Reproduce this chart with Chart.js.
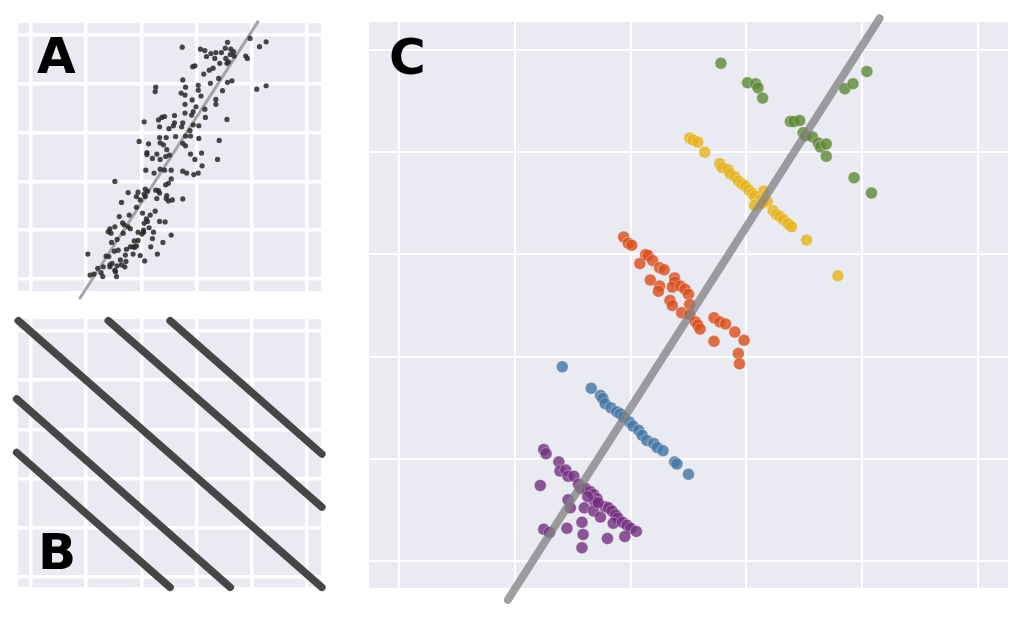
<!DOCTYPE html>
<html>
<head>
<meta charset="utf-8">
<script src="https://cdn.jsdelivr.net/npm/chart.js@4.4.1/dist/chart.umd.min.js"></script>
<style>
  html, body { margin: 0; padding: 0; background: #fff; }
  #wrap { position: relative; width: 1028px; height: 620px; overflow: hidden; }
  canvas { position: absolute; }
  .tag { position: absolute; font: bold 50px "DejaVu Sans", "Liberation Sans", Arial, sans-serif; line-height: 50px; color: #000; }
</style>
</head>
<body>
<div id="wrap">
  <canvas id="chartA" width="340" height="310" style="left:0px;top:0px"></canvas>
  <canvas id="chartB" width="340" height="315" style="left:0px;top:305px"></canvas>
  <canvas id="chartC" width="683" height="620" style="left:345px;top:0px"></canvas>
  <div class="tag" style="left:37px;top:31px">A</div>
  <div class="tag" style="left:38px;top:527px">B</div>
  <div class="tag" style="left:389px;top:32px">C</div>
</div>
<script>
// grid positions (axis units, same for every panel)
const gridTicks = [0, 1, 2, 3, 4, 5];

// panel A: noisy cloud + fitted line
const aPoints = [
  [3.56,4.85],[3.97,4.93],[4.26,4.86],[2.74,4.75],[3.07,4.71],[3.15,4.68],[3.26,4.62],[3.35,4.64],
  [3.45,4.64],[3.52,4.73],[3.62,4.71],[3.67,4.66],[3.61,4.60],[3.18,4.56],[3.33,4.52],[3.53,4.52],
  [3.58,4.45],[3.68,4.57],[3.89,4.57],[3.92,4.52],[4.14,4.76],[3.42,4.42],[3.30,4.32],[3.23,4.28],
  [2.93,4.35],[2.97,4.37],[3.13,4.20],[3.40,4.11],[3.56,4.03],[3.64,4.06],[3.25,4.01],[2.75,4.08],
  [2.26,3.93],[2.25,3.84],[2.80,3.93],[2.72,3.81],[3.03,3.97],[3.03,3.87],[2.92,3.67],[3.08,3.75],
  [2.79,3.58],[3.35,3.68],[3.35,3.58],[3.47,3.86],[4.09,3.89],[4.26,3.96],[2.99,3.53],[2.79,3.40],
  [3.15,3.48],[2.91,3.36],[2.60,3.35],[2.42,3.33],[2.37,3.31],[2.31,3.26],[2.05,3.22],[2.60,3.20],
  [2.75,3.20],[2.58,3.14],[2.73,3.12],[2.94,3.16],[3.04,3.14],[3.16,3.31],[3.55,3.27],[2.50,3.08],
  [2.33,3.12],[2.88,3.04],[2.80,2.93],[2.89,2.93],[3.04,2.88],[3.41,2.84],[1.96,2.82],[2.13,2.77],
  [2.33,2.90],[2.34,2.79],[2.40,2.75],[2.46,2.65],[2.51,2.54],[2.80,2.73],[2.75,2.78],[2.45,2.90],
  [2.62,2.92],[3.09,2.58],[2.89,2.56],[2.97,2.45],[3.10,2.32],[3.38,2.45],[2.10,2.59],[2.10,2.55],
  [2.28,2.56],[2.34,2.45],[2.44,2.51],[2.20,2.47],[2.34,2.25],[2.42,2.23],[2.54,2.23],[2.75,2.21],
  [2.82,2.17],[2.95,2.14],[3.03,2.17],[2.08,2.23],[1.52,2.00],[2.23,2.17],[2.54,2.05],[2.49,1.96],
  [2.44,1.93],[2.31,1.81],[2.11,1.80],[2.05,1.74],[1.94,1.78],[1.91,1.69],[1.76,1.77],[1.98,1.62],
  [2.07,1.69],[2.26,1.82],[2.33,1.76],[2.46,1.71],[2.28,1.65],[2.45,1.65],[2.49,1.60],[2.56,1.62],
  [2.75,1.64],[1.64,1.57],[1.91,1.47],[2.02,1.35],[2.16,1.31],[2.09,1.23],[2.25,1.39],[2.33,1.18],
  [2.43,1.17],[1.78,1.31],[1.60,1.28],[1.66,1.15],[1.52,1.07],[1.43,1.03],[1.40,0.97],[1.56,0.81],
  [1.67,0.94],[1.80,1.03],[1.94,0.96],[2.05,1.14],[2.04,1.00],[2.01,0.92],[2.14,1.05],[2.22,0.96],
  [2.20,0.83],[2.39,0.75],[2.54,0.90],[1.94,0.79],[1.73,0.61],[1.80,0.66],[1.88,0.65],[1.85,0.51],
  [1.71,0.49],[1.62,0.39],[1.47,0.32],[1.43,0.25],[1.56,0.27],[1.70,0.25],[1.51,0.57],[1.41,0.46],
  [1.36,0.47],[1.03,0.51],[1.21,0.22],[1.31,0.25],[1.27,0.13],[1.14,0.10],[1.07,0.08],[1.53,0.15],
  [1.55,0.05],[1.30,0.05],[1.72,0.36],[1.98,0.48],[2.06,0.37],[2.29,0.51],[2.17,0.66],[1.46,0.75],
  [1.85,0.66],[1.69,1.11],[1.76,1.07],[1.45,0.94],[2.11,1.18],[1.43,0.29],[1.52,0.18],[1.64,0.29],
  [1.58,0.59],[1.91,0.68],[1.87,0.78],[2.04,0.96],[2.07,1.84],[2.79,3.77],[2.94,3.43],[3.55,4.42]
];
const aFit = [[0.89,-0.39],[4.11,5.27]];

// panel B: parallel segments, [start, end]
const bSegments = [
  [[-0.23,5.21],[5.27,-0.21]],
  [[-0.26,3.62],[3.61,-0.21]],
  [[-0.26,2.53],[2.52,-0.21]],
  [[1.40,5.21],[5.27,1.42]],
  [[2.52,5.21],[5.27,2.50]]
];

// panel C: five groups + overall fit
const cPurple = [
  [1.25,1.09],[1.27,1.05],[1.38,0.97],[1.39,0.88],[1.44,0.89],[1.46,0.83],[1.51,0.83],[1.22,0.74],
  [1.55,0.75],[1.57,0.71],[1.61,0.71],[1.65,0.68],[1.68,0.65],[1.71,0.61],[1.69,0.58],[1.46,0.60],
  [1.48,0.52],[1.60,0.52],[1.68,0.49],[1.74,0.43],[1.78,0.53],[1.81,0.52],[1.84,0.49],[1.87,0.45],
  [1.89,0.42],[1.85,0.37],[1.93,0.38],[1.97,0.35],[2.00,0.32],[2.05,0.29],[1.25,0.31],[1.30,0.28],
  [1.45,0.32],[1.58,0.38],[1.59,0.26],[1.58,0.13],[1.80,0.22],[1.95,0.24],[1.63,0.63],[1.72,0.57]
];
const cBlue = [
  [1.41,1.90],[1.66,1.69],[1.74,1.62],[1.76,1.59],[1.78,1.54],[1.83,1.50],[1.88,1.46],[1.91,1.44],
  [1.94,1.41],[1.99,1.36],[2.02,1.32],[2.07,1.28],[2.10,1.23],[2.14,1.18],[2.20,1.15],[2.23,1.11],
  [2.28,1.08],[2.38,0.97],[2.40,0.95],[2.50,0.85]
];
const cOrange = [
  [1.94,3.17],[1.98,3.11],[2.01,3.09],[2.13,3.00],[2.15,2.99],[2.08,2.91],[2.19,2.94],[2.25,2.87],
  [2.29,2.85],[2.17,2.75],[2.25,2.69],[2.24,2.64],[2.38,2.77],[2.38,2.73],[2.36,2.68],[2.43,2.69],
  [2.47,2.66],[2.50,2.61],[2.34,2.55],[2.36,2.50],[2.44,2.43],[2.51,2.51],[2.51,2.41],[2.56,2.34],
  [2.58,2.31],[2.60,2.27],[2.72,2.38],[2.77,2.34],[2.82,2.32],[2.90,2.24],[2.98,2.16],[2.72,2.15],
  [2.93,2.03],[2.94,1.93]
];
const cYellow = [
  [2.51,4.14],[2.54,4.12],[2.58,4.10],[2.64,4.00],[2.77,3.89],[2.79,3.85],[2.84,3.83],[2.86,3.79],
  [2.90,3.76],[2.93,3.72],[2.96,3.69],[2.99,3.67],[3.02,3.63],[3.05,3.60],[3.15,3.62],[3.07,3.57],
  [3.12,3.53],[3.07,3.48],[3.14,3.50],[3.18,3.52],[3.23,3.43],[3.26,3.39],[3.29,3.37],[3.32,3.34],
  [3.36,3.30],[3.39,3.27],[3.52,3.14],[3.79,2.79]
];
const cGreen = [
  [2.78,4.87],[3.01,4.68],[3.08,4.67],[3.10,4.63],[3.14,4.53],[3.38,4.30],[3.41,4.30],[3.46,4.31],
  [3.49,4.19],[3.51,4.16],[3.57,4.15],[3.62,4.09],[3.64,4.05],[3.69,4.08],[3.69,3.96],[3.85,4.62],
  [3.92,4.67],[4.04,4.79],[3.93,3.75],[4.08,3.60]
];
const cFit = [[0.94,-0.38],[4.15,5.31]];

function toXY(pairs) {
  return pairs.map(function (p) { return { x: p[0], y: p[1] }; });
}

// seaborn-ish panel background
const panelBg = {
  id: 'panelBg',
  beforeDraw(chart) {
    const a = chart.chartArea, ctx = chart.ctx;
    ctx.save();
    ctx.fillStyle = '#eaeaf2';
    ctx.fillRect(a.left, a.top, a.right - a.left, a.bottom - a.top);
    ctx.restore();
  }
};

function axis(min, max, lw, horizontal) {
  return {
    type: 'linear', min: min, max: max, bounds: 'data',
    grid: { color: '#ffffff', lineWidth: lw, drawTicks: false },
    border: { display: false },
    ticks: { display: false },
    afterBuildTicks: function (s) { s.ticks = gridTicks.map(function (v) { return { value: v }; }); },
    afterFit: function (s) { if (horizontal) s.height = 0; else s.width = 0; }
  };
}

function baseOptions(pad, xr, yr, lw) {
  return {
    responsive: false,
    animation: false,
    events: [],
    layout: { padding: pad },
    plugins: { legend: { display: false }, tooltip: { enabled: false } },
    scales: { x: axis(xr[0], xr[1], lw, true), y: axis(yr[0], yr[1], lw, false) }
  };
}

// A
new Chart(document.getElementById('chartA'), {
  type: 'scatter',
  data: {
    datasets: [
      { data: toXY(aPoints), pointRadius: 2.6, backgroundColor: 'rgba(40,40,40,0.85)', borderWidth: 0, order: 0 },
      { data: toXY(aFit), showLine: true, pointRadius: 0, borderColor: '#a4a4a6', borderWidth: 3,
        borderCapStyle: 'round', clip: false, order: 1 }
    ]
  },
  options: baseOptions({ left: 18, top: 23, right: 19, bottom: 19 }, [-0.235, 5.254], [-0.246, 5.246], 3.5),
  plugins: [panelBg]
});

// B
new Chart(document.getElementById('chartB'), {
  type: 'scatter',
  data: {
    datasets: bSegments.map(function (seg) {
      return { data: toXY(seg), showLine: true, pointRadius: 0, borderColor: '#464646', borderWidth: 7.5,
        borderCapStyle: 'round', clip: false };
    })
  },
  options: baseOptions({ left: 18, top: 14, right: 19, bottom: 33 }, [-0.235, 5.254], [-0.203, 5.244], 3.5),
  plugins: [panelBg]
});

// C
function group(pairs, color) {
  return { data: toXY(pairs), pointRadius: 6, backgroundColor: color,
    borderColor: 'rgba(255,255,255,0.55)', borderWidth: 0.6, order: 1 };
}
new Chart(document.getElementById('chartC'), {
  type: 'scatter',
  data: {
    datasets: [
      { data: toXY(cFit), showLine: true, pointRadius: 0, borderColor: 'rgba(128,128,130,0.75)', borderWidth: 8,
        borderCapStyle: 'round', clip: false, order: 0 },
      group(cPurple, 'rgba(116,48,127,0.8)'),
      group(cBlue, 'rgba(67,117,164,0.8)'),
      group(cOrange, 'rgba(216,79,27,0.8)'),
      group(cYellow, 'rgba(229,179,27,0.8)'),
      group(cGreen, 'rgba(92,135,52,0.8)')
    ]
  },
  options: baseOptions({ left: 24, top: 22, right: 20, bottom: 32 }, [-0.259, 5.259], [-0.264, 5.274], 2),
  plugins: [panelBg]
});
</script>
</body>
</html>
